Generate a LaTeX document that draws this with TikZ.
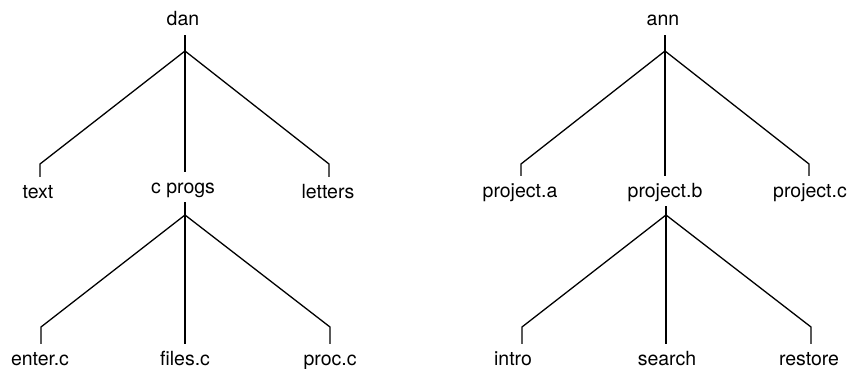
\documentclass[tikz,border=0pt]{standalone}
\usepackage{fontspec}
\setmainfont{TeX Gyre Heros}
\begin{document}
\begin{tikzpicture}[x=1pt,y=-1pt,
  lbl/.style={inner sep=0pt,text height=21pt,text depth=9pt,anchor=base,font=\fontsize{19.5}{22}\selectfont},
  edge/.style={line width=1.3pt,line join=miter}]
\useasboundingbox (0,0) rectangle (851,369);
% left tree
\node[lbl] (dan) at (183,26) {dan};
\node[lbl] (text) at (38,198) {text};
\node[lbl] (cprogs) at (183,193) {c progs};
\node[lbl] (letters) at (328,198) {letters};
\node[lbl] (enter) at (40,365) {enter.c};
\node[lbl] (files) at (185,365) {files.c};
\node[lbl] (proc) at (330,365) {proc.c};
% right tree
\node[lbl] (ann) at (663,26) {ann};
\node[lbl] (pa) at (520,197) {project.a};
\node[lbl] (pb) at (665,197) {project.b};
\node[lbl] (pc) at (810,197) {project.c};
\node[lbl] (intro) at (513,365) {intro};
\node[lbl] (search) at (667,365) {search};
\node[lbl] (restore) at (809,365) {restore};
% junctions and corners
\coordinate (j1) at (185,51);
\coordinate (j2) at (185,215);
\coordinate (j3) at (665,51);
\coordinate (j4) at (666,215);
\coordinate (c1) at (40,164);
\coordinate (c2) at (329,164);
\coordinate (c3) at (41,327);
\coordinate (c4) at (330,327);
\coordinate (c5) at (521,164);
\coordinate (c6) at (809,164);
\coordinate (c7) at (522,327);
\coordinate (c8) at (811,327);
% edges
\draw[edge] (j1 |- dan.south) -- (j1);
\draw[edge] (j1) -- (c1) -- (c1 |- text.north);
\draw[edge] (j1) -- (j1 |- cprogs.north);
\draw[edge] (j1) -- (c2) -- (c2 |- letters.north);
\draw[edge] (j2 |- cprogs.south) -- (j2);
\draw[edge] (j2) -- (c3) -- (c3 |- enter.north);
\draw[edge] (j2) -- (j2 |- files.north);
\draw[edge] (j2) -- (c4) -- (c4 |- proc.north);
\draw[edge] (j3 |- ann.south) -- (j3);
\draw[edge] (j3) -- (c5) -- (c5 |- pa.north);
\draw[edge] (j3) -- (j3 |- pb.north);
\draw[edge] (j3) -- (c6) -- (c6 |- pc.north);
\draw[edge] (j4 |- pb.south) -- (j4);
\draw[edge] (j4) -- (c7) -- (c7 |- intro.north);
\draw[edge] (j4) -- (j4 |- search.north);
\draw[edge] (j4) -- (c8) -- (c8 |- restore.north);
\end{tikzpicture}
\end{document}
